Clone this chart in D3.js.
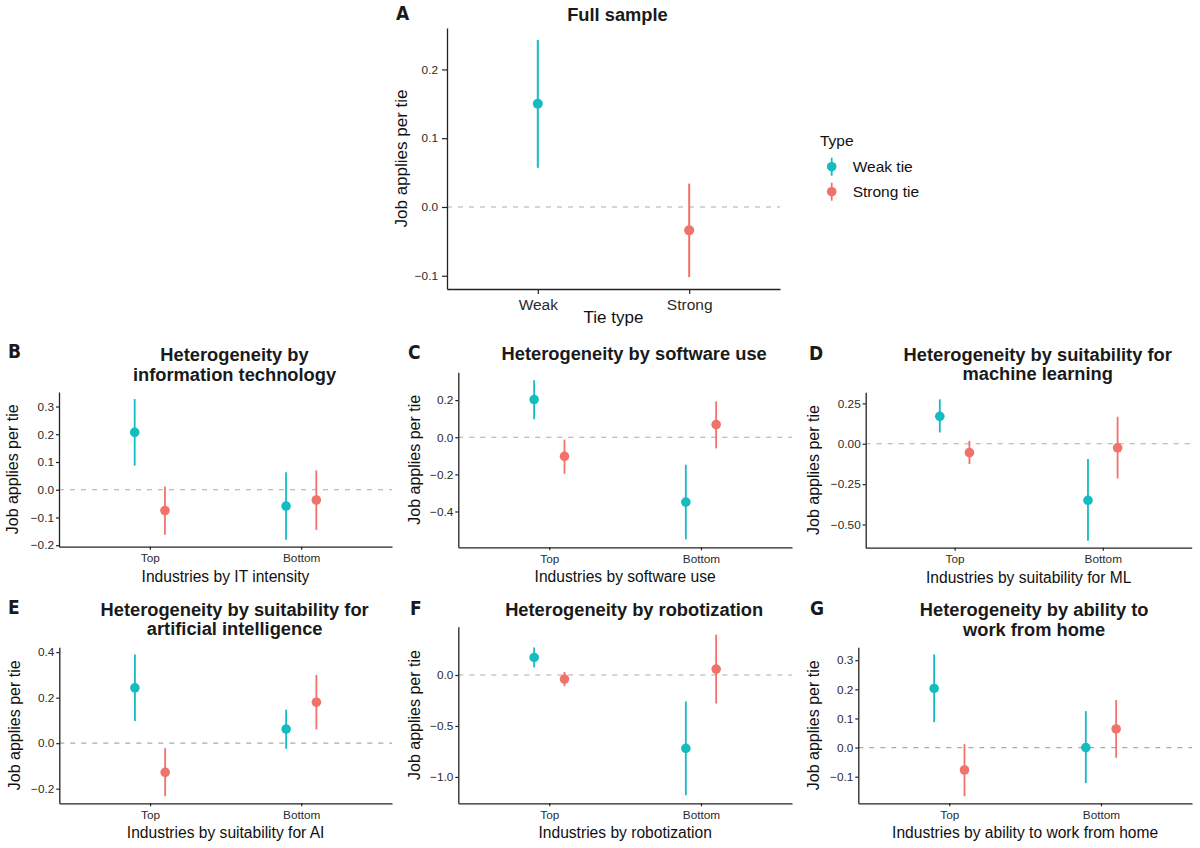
<!DOCTYPE html>
<html>
<head>
<meta charset="utf-8">
<script src="https://cdn.jsdelivr.net/npm/d3@7"></script>
<style>
  body { margin: 0; background: #fff; }
  svg { display: block; font-family: "Liberation Sans", Arial, Helvetica, sans-serif; }
</style>
</head>
<body>
<svg id="chart"></svg>
<script>
const width = 1200;
const height = 848;
const svg = d3.select("#chart").attr("width", width).attr("height", height);

// Series and categories
const tieTypes = ["Weak tie", "Strong tie"];
const tieLevels = ["Weak", "Strong"];
const industryLevels = ["Top", "Bottom"];

// rows: [x category, type, estimate, lower, upper]
const fullRows = [
  ["Weak", "Weak tie", 0.150, 0.057, 0.243],
  ["Strong", "Strong tie", -0.034, -0.102, 0.034]
];
const itRows = [
  ["Top", "Weak tie", 0.207, 0.087, 0.327],
  ["Top", "Strong tie", -0.075, -0.162, 0.012],
  ["Bottom", "Weak tie", -0.059, -0.180, 0.063],
  ["Bottom", "Strong tie", -0.037, -0.145, 0.070]
];
const softwareRows = [
  ["Top", "Weak tie", 0.203, 0.097, 0.307],
  ["Top", "Strong tie", -0.103, -0.197, -0.013],
  ["Bottom", "Weak tie", -0.349, -0.550, -0.148],
  ["Bottom", "Strong tie", 0.068, -0.060, 0.193]
];
const mlRows = [
  ["Top", "Weak tie", 0.170, 0.070, 0.275],
  ["Top", "Strong tie", -0.055, -0.125, 0.018],
  ["Bottom", "Weak tie", -0.350, -0.600, -0.095],
  ["Bottom", "Strong tie", -0.025, -0.215, 0.167]
];
const aiRows = [
  ["Top", "Weak tie", 0.243, 0.097, 0.390],
  ["Top", "Strong tie", -0.128, -0.233, -0.022],
  ["Bottom", "Weak tie", 0.062, -0.025, 0.147],
  ["Bottom", "Strong tie", 0.180, 0.060, 0.300]
];
const robotRows = [
  ["Top", "Weak tie", 0.172, 0.075, 0.270],
  ["Top", "Strong tie", -0.040, -0.110, 0.030],
  ["Bottom", "Weak tie", -0.720, -1.180, -0.260],
  ["Bottom", "Strong tie", 0.058, -0.280, 0.395]
];
const homeRows = [
  ["Top", "Weak tie", 0.203, 0.087, 0.320],
  ["Top", "Strong tie", -0.077, -0.167, 0.012],
  ["Bottom", "Weak tie", 0.000, -0.122, 0.125],
  ["Bottom", "Strong tie", 0.064, -0.035, 0.163]
];

// Tick labels
const fullTicks = [-0.1, 0, 0.1, 0.2];
const itTicks = [-0.2, -0.1, 0, 0.1, 0.2, 0.3];
const softwareTicks = [-0.4, -0.2, 0, 0.2];
const mlTicks = [-0.5, -0.25, 0, 0.25];
const aiTicks = [-0.2, 0, 0.2, 0.4];
const robotTicks = [-1.0, -0.5, 0];
const homeTicks = [-0.1, 0, 0.1, 0.2, 0.3];

const color = d3.scaleOrdinal().domain(tieTypes).range(["#13BCC1", "#F0726B"]);

// Panels: data + layout
const panels = [
  { tag: "A", rows: fullRows, ticks: fullTicks, fmt: ".1f", cats: tieLevels, dodge: false,
    title: ["Full sample"], xTitle: "Tie type",
    box: [447, 28, 780, 289], big: true, yTitleOff: 40, titleY: 20.5, tagX: 396, tagY: 20 },
  { tag: "B", rows: itRows, ticks: itTicks, fmt: ".1f", cats: industryLevels, dodge: true,
    title: ["Heterogeneity by", "information technology"], xTitle: "Industries by IT intensity",
    box: [59, 392, 392, 546.7], yTitleOff: 41, titleY: 361, tagX: 8, tagY: 358 },
  { tag: "C", rows: softwareRows, ticks: softwareTicks, fmt: ".1f", cats: industryLevels, dodge: true,
    title: ["Heterogeneity by software use"], xTitle: "Industries by software use",
    box: [458.3, 372.3, 792, 547.3], yTitleOff: 38, titleY: 359.5, tagX: 408, tagY: 359 },
  { tag: "D", rows: mlRows, ticks: mlTicks, fmt: ".2f", cats: industryLevels, dodge: true,
    title: ["Heterogeneity by suitability for", "machine learning"], xTitle: "Industries by suitability for ML",
    box: [865.7, 392.3, 1191.7, 547.7], yTitleOff: 47, titleY: 360.5, tagX: 809, tagY: 360 },
  { tag: "E", rows: aiRows, ticks: aiTicks, fmt: ".1f", cats: industryLevels, dodge: true,
    title: ["Heterogeneity by suitability for", "artificial intelligence"], xTitle: "Industries by suitability for AI",
    box: [59.3, 647.3, 392, 803.3], yTitleOff: 39, titleY: 615.5, tagX: 8, tagY: 614 },
  { tag: "F", rows: robotRows, ticks: robotTicks, fmt: ".1f", cats: industryLevels, dodge: true,
    title: ["Heterogeneity by robotization"], xTitle: "Industries by robotization",
    box: [458.3, 626.7, 792, 803.3], yTitleOff: 38, titleY: 615.5, tagX: 410, tagY: 615 },
  { tag: "G", rows: homeRows, ticks: homeTicks, fmt: ".1f", cats: industryLevels, dodge: true,
    title: ["Heterogeneity by ability to", "work from home"], xTitle: "Industries by ability to work from home",
    box: [858.3, 647.3, 1192, 803.3], yTitleOff: 39, titleY: 616, tagX: 810, tagY: 615 }
];

panels.forEach(p => {
  const [x0, y0, x1, y1] = p.box;
  const g = svg.append("g");

  // y domain like ggplot: data range expanded by 5%
  const lo = d3.min(p.rows, r => r[3]);
  const hi = d3.max(p.rows, r => r[4]);
  const pad = (hi - lo) * 0.05;
  const y = d3.scaleLinear().domain([lo - pad, hi + pad]).range([y1, y0]);
  const x = d3.scalePoint().domain(p.cats).range([x0, x1]).padding(0.6);
  const dodge = d3.scalePoint().domain(tieTypes).range([-0.1, 0.1]);

  const tickLen = p.big ? 5 : 3;
  const tickFont = p.big ? 15.5 : 11.8;
  const titleFont = p.big ? 17 : 16;

  // zero reference line
  g.append("line")
    .attr("x1", x0).attr("x2", x1)
    .attr("y1", y(0)).attr("y2", y(0))
    .attr("stroke", "#ababab")
    .attr("stroke-width", 1.1)
    .attr("stroke-dasharray", "5,6");

  // axes
  const yAxis = g.append("g")
    .attr("transform", `translate(${x0},0)`)
    .call(d3.axisLeft(y).tickValues(p.ticks).tickFormat(d3.format(p.fmt))
      .tickSize(tickLen).tickSizeOuter(0).tickPadding(p.big ? 4 : 2));
  const xAxis = g.append("g")
    .attr("transform", `translate(0,${y1})`)
    .call(d3.axisBottom(x).tickSize(tickLen).tickSizeOuter(0).tickPadding(p.big ? 5 : 4));

  [yAxis, xAxis].forEach(a => {
    a.select(".domain").attr("stroke", "#222").attr("stroke-width", 1.3);
    a.selectAll(".tick line").attr("stroke", "#222").attr("stroke-width", 1.2);
    a.selectAll("text").attr("fill", "#2b2b2b").style("font-size", "11.8px")
      .style("font-family", "'Liberation Sans', Arial, sans-serif");
  });
  xAxis.selectAll("text").style("font-size", tickFont + "px");

  // error bars + points
  const step = x.step();
  const px = r => x(r[0]) + (p.dodge ? dodge(r[1]) * step : 0);

  g.append("g").selectAll("line")
    .data(p.rows)
    .join("line")
    .attr("x1", px).attr("x2", px)
    .attr("y1", r => y(r[3])).attr("y2", r => y(r[4]))
    .attr("stroke", r => color(r[1]))
    .attr("stroke-width", p.big ? 2 : 1.8);

  g.append("g").selectAll("circle")
    .data(p.rows)
    .join("circle")
    .attr("cx", px)
    .attr("cy", r => y(r[2]))
    .attr("r", p.big ? 5 : 4.8)
    .attr("fill", r => color(r[1]));

  // axis titles
  g.append("text")
    .attr("transform", `translate(${x0 - p.yTitleOff},${(y0 + y1) / 2}) rotate(-90)`)
    .attr("text-anchor", "middle")
    .style("font-size", titleFont + "px")
    .attr("fill", "#111")
    .text("Job applies per tie");

  g.append("text")
    .attr("x", (x0 + x1) / 2)
    .attr("y", y1 + (p.big ? 34 : 35))
    .attr("text-anchor", "middle")
    .style("font-size", (p.big ? 17 : 15.6) + "px")
    .attr("fill", "#111")
    .text(p.xTitle);

  // plot title
  g.append("g").selectAll("text")
    .data(p.title)
    .join("text")
    .attr("x", (x0 + x1) / 2 + (p.big ? 4 : 9))
    .attr("y", (d, i) => p.titleY + i * 19.5)
    .attr("text-anchor", "middle")
    .style("font-size", "18.3px")
    .style("font-weight", "bold")
    .attr("fill", "#1a1a1a")
    .text(d => d);

  // panel tag
  g.append("text")
    .attr("x", p.tagX)
    .attr("y", p.tagY)
    .style("font-family", "'Liberation Sans Narrow', 'DejaVu Sans Condensed', sans-serif")
    .style("font-size", "19px")
    .style("font-weight", "bold")
    .attr("fill", "#1a1a1a")
    .text(p.tag);
});

// Legend
const legend = svg.append("g").attr("transform", "translate(820,0)");
legend.append("text")
  .attr("x", 0).attr("y", 146)
  .style("font-size", "15.5px")
  .attr("fill", "#111")
  .text("Type");

const item = legend.selectAll("g.item")
  .data(tieTypes)
  .join("g")
  .attr("class", "item")
  .attr("transform", (d, i) => `translate(0,${166.7 + i * 25})`);

item.append("line")
  .attr("x1", 11.7).attr("x2", 11.7)
  .attr("y1", -9).attr("y2", 9)
  .attr("stroke", d => color(d))
  .attr("stroke-width", 1.8);
item.append("circle")
  .attr("cx", 11.7).attr("cy", 0).attr("r", 4.8)
  .attr("fill", d => color(d));
item.append("text")
  .attr("x", 32.7).attr("y", 5.5)
  .style("font-size", "15.5px")
  .attr("fill", "#111")
  .text(d => d);
</script>
</body>
</html>
